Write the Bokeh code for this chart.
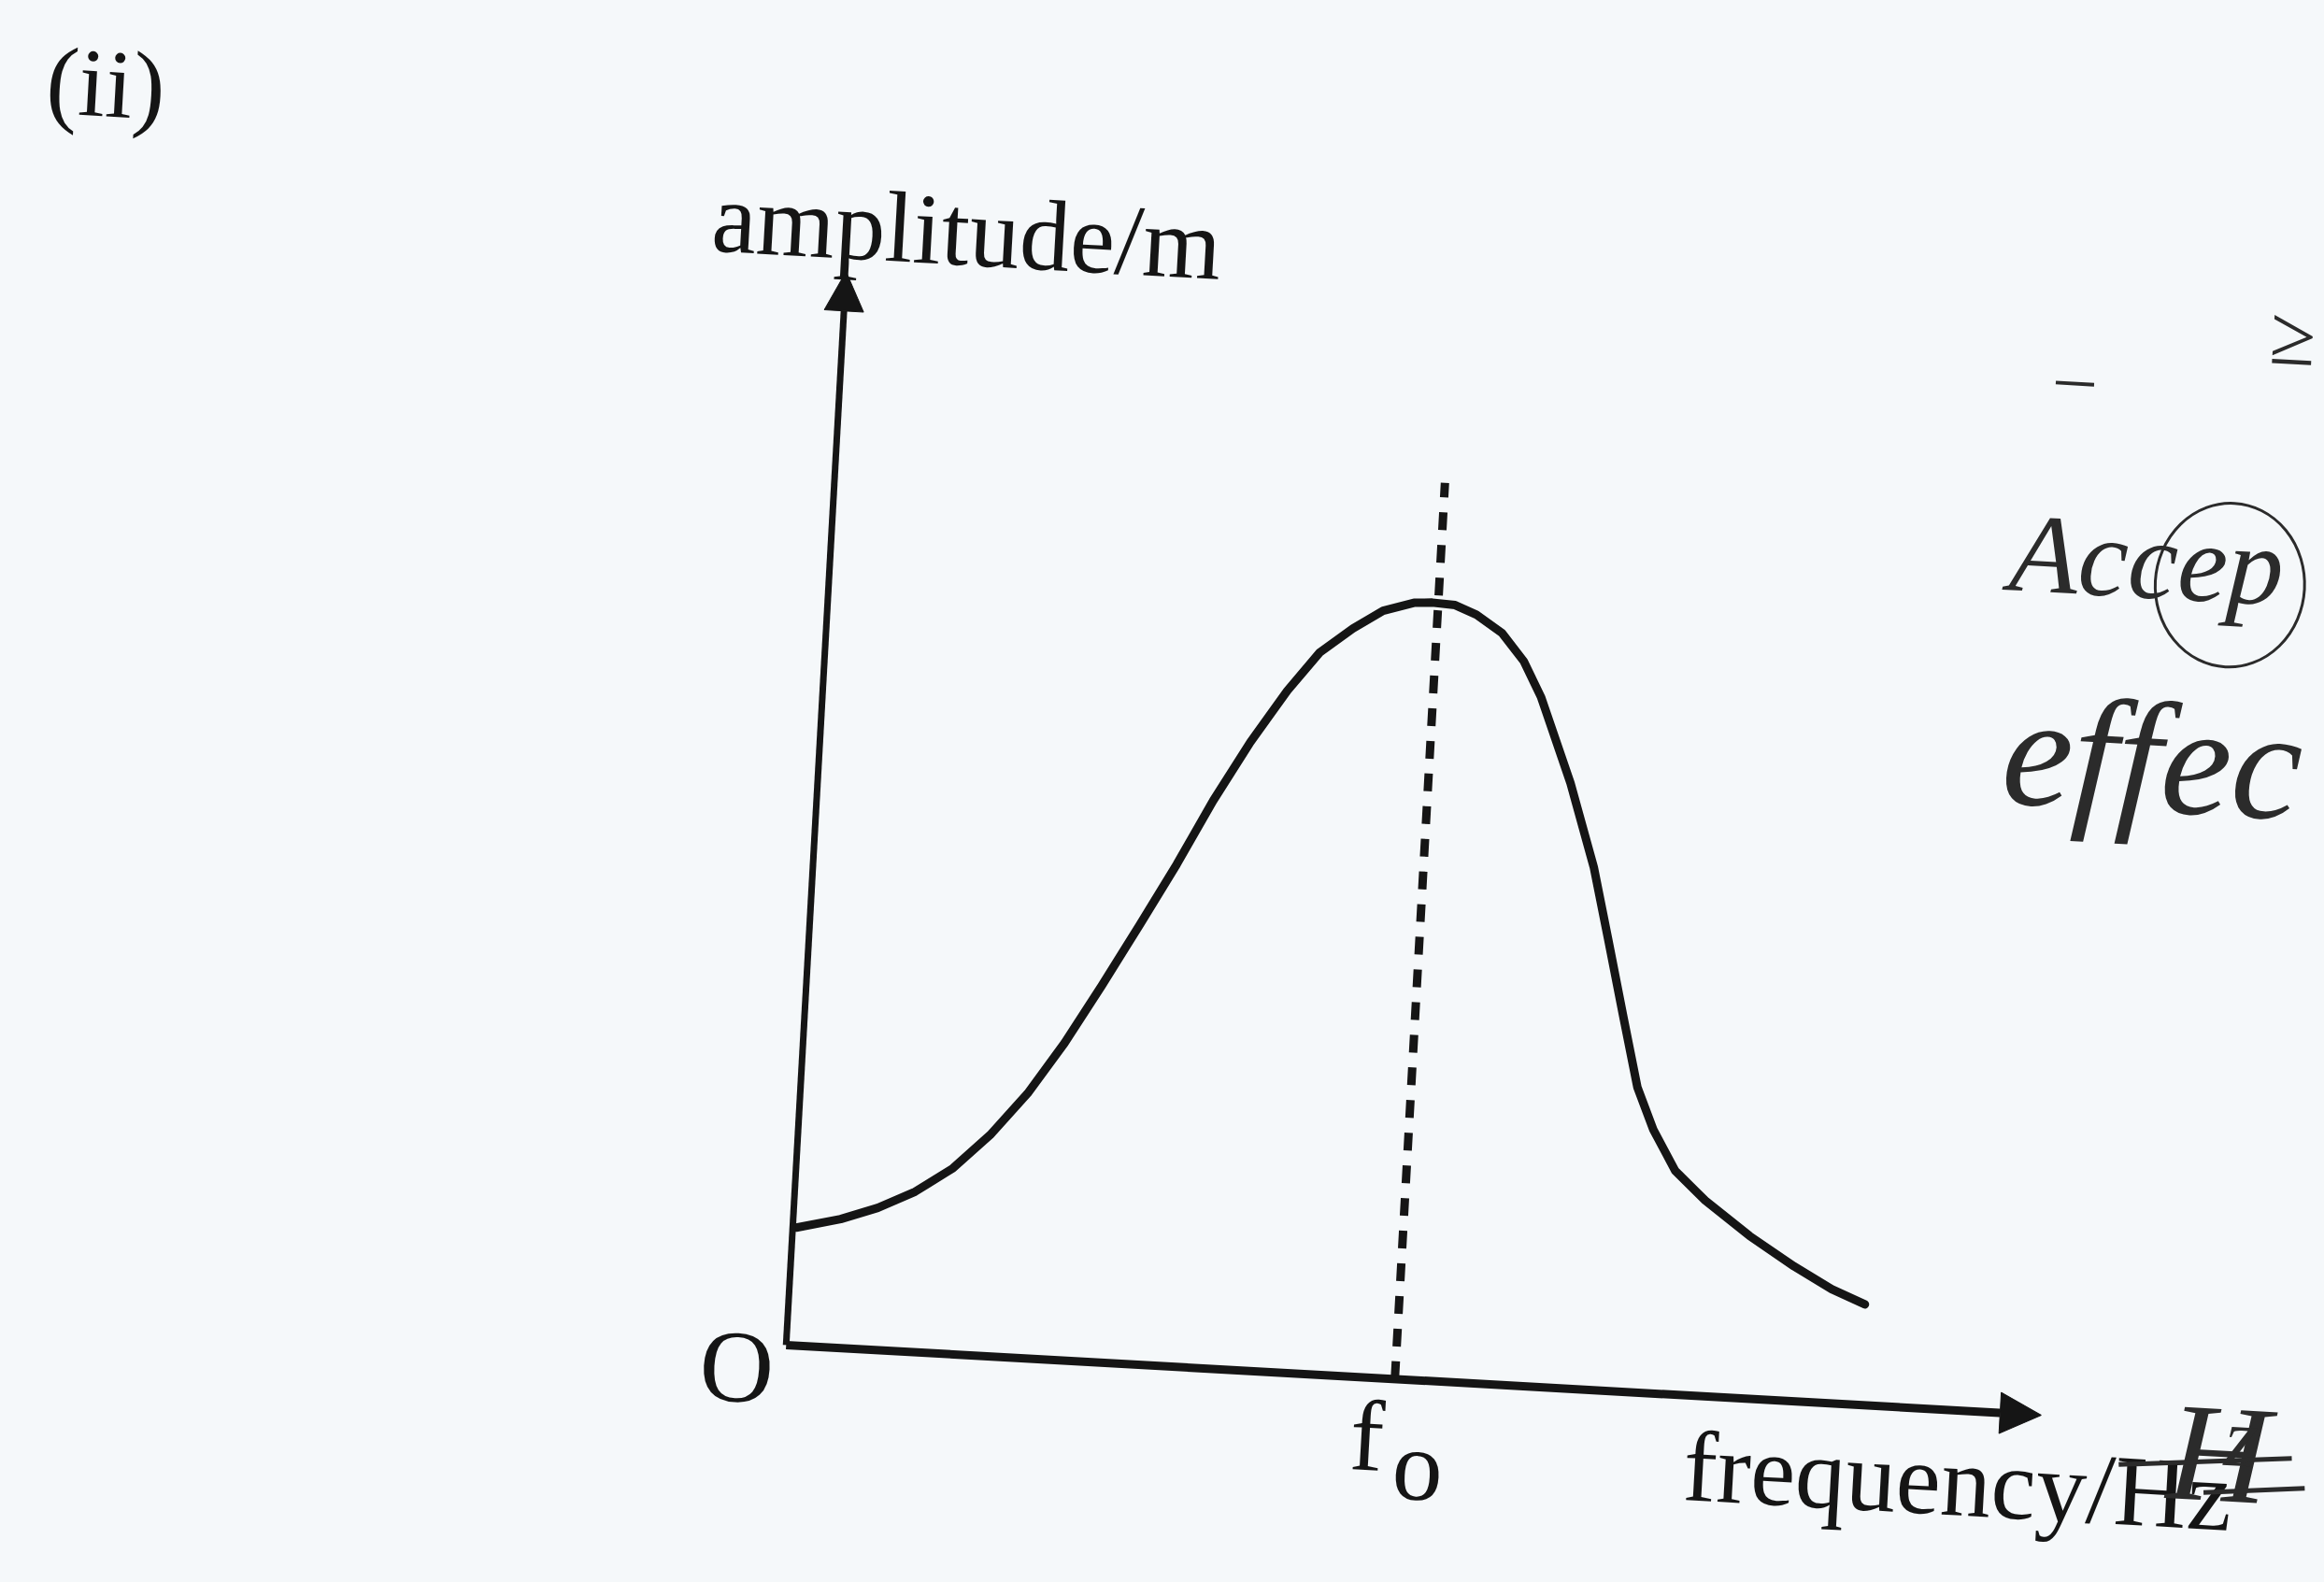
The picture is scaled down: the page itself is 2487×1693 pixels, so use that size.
import math

from bokeh.plotting import figure
from bokeh.models import Range1d, Arrow, NormalHead
from bokeh.layouts import column
from bokeh.core.properties import value
from bokeh.embed import file_html
from bokeh.resources import INLINE

# Resonance curve: amplitude of a driven oscillator against driving frequency
# (arbitrary units, f0 = natural frequency)
frequency = [0.03, 0.39, 0.69, 0.99, 1.29, 1.58, 1.87, 2.15, 2.43, 2.71, 2.99,
             3.26, 3.54, 3.82, 4.07, 4.33, 4.57, 4.82, 4.97, 5.16, 5.34, 5.56,
             5.75, 5.91, 6.19, 6.42, 6.57, 6.73, 6.88, 7.03, 7.23, 7.49, 7.87,
             8.25, 8.57, 8.85]
amplitude = [0.97, 1.06, 1.17, 1.32, 1.53, 1.82, 2.18, 2.61, 3.10, 3.61, 4.13,
             4.67, 5.17, 5.61, 5.94, 6.15, 6.31, 6.39, 6.40, 6.39, 6.32, 6.18,
             5.96, 5.67, 4.98, 4.30, 3.72, 3.09, 2.51, 2.17, 1.84, 1.61, 1.34,
             1.11, 0.94, 0.83]
f0 = 5.02
f0_guide_top = 7.39
freq_axis_end = 10.35
amp_axis_end = 8.85

x_label = "frequency/Hz"
y_label = "amplitude/m"
part_label = "(ii)"

# page geometry
W, H = 2487, 1693
PX_PER_UNIT = 130.0
ORIGIN_PX = (874.7, 1460.6)      # where (0, 0) sits on the canvas
TILT_DEG = 3.2                   # the printed sheet sits slightly askew
PAPER = "#f5f8fa"
INK = "#151515"
PEN = "#2b2b2b"
FONT = "Liberation Serif"

# the tilted plot is measured by its bounding box, so its canvas grows to that size
t = math.radians(TILT_DEG)
CW = W * math.cos(t) + H * math.sin(t)
CH = W * math.sin(t) + H * math.cos(t)

x0 = -ORIGIN_PX[0] / PX_PER_UNIT
x1 = (CW - ORIGIN_PX[0]) / PX_PER_UNIT
y0 = -(CH - ORIGIN_PX[1]) / PX_PER_UNIT
y1 = ORIGIN_PX[1] / PX_PER_UNIT

p = figure(width=W, height=H, x_range=Range1d(x0, x1), y_range=Range1d(y0, y1),
           x_axis_location=None, y_axis_location=None, min_border=0,
           toolbar_location=None, output_backend="svg",
           background_fill_color=PAPER, border_fill_color=PAPER)
p.grid.visible = False
p.outline_line_color = None
p.styles = {"transform": f"rotate({TILT_DEG}deg)", "transform-origin": "50% 50%"}

# axes drawn as arrows from the origin
p.add_layout(Arrow(end=NormalHead(size=44, fill_color=INK, line_color=INK, line_width=1),
                   x_start=0, y_start=0, x_end=freq_axis_end, y_end=0,
                   line_width=9, line_color=INK))
p.add_layout(Arrow(end=NormalHead(size=42, fill_color=INK, line_color=INK, line_width=1),
                   x_start=0, y_start=0, x_end=0, y_end=amp_axis_end,
                   line_width=7, line_color=INK))

# dashed guide at the natural frequency
p.segment(x0=[f0], y0=[0], x1=[f0], y1=[f0_guide_top], line_color=INK,
          line_width=9, line_dash="19 16")

# resonance curve
p.line(frequency, amplitude, line_color=INK, line_width=9,
       line_join="round", line_cap="round")

serif = dict(text_font=value(FONT), text_color=INK, text_baseline="alphabetic",
             text_font_style="normal")

p.text(x=[-1.126], y=[9.24], text=[y_label], text_font_size=value("108px"),
       text_align="left", **serif)
p.text(x=[7.435], y=[-0.58], text=[x_label], text_font_size=value("108px"),
       text_align="left", **serif)
p.text(x=[-0.09], y=[-0.20], text=["O"], text_font_size=value("110px"),
       text_align="right", **serif)
p.text(x=[4.68], y=[-0.48], text=["f"], text_font_size=value("108px"),
       text_align="left", **serif)
p.text(x=[5.04], y=[-0.70], text=["o"], text_font_size=value("108px"),
       text_align="left", **serif)
p.text(x=[-6.66], y=[10.06], text=[part_label], text_font_size=value("104px"),
       text_align="left", **serif)

# marker's pen notes in the margin
pen = dict(text_font=value(FONT), text_font_style="italic", text_color=PEN,
           text_baseline="alphabetic", text_align="left")
p.text(x=[9.70], y=[7.08], text=["Accep"], text_font_size=value("120px"), **pen)
p.text(x=[9.73], y=[5.45], text=["effec"], text_font_size=value("170px"), **pen)
p.text(x=[10.0], y=[8.56], text=["\u2013"], text_font_size=value("80px"), **pen)
p.text(x=[11.73], y=[8.99], text=["\u2265"], text_font_size=value("90px"), **pen)
p.ellipse(x=[11.52], y=[6.91], width=1.23, height=1.35, fill_color=None,
          line_color=PEN, line_width=3)
p.text(x=[11.41], y=[-0.23], text=["H"], text_font_size=value("150px"), **pen)
p.text(x=[11.87], y=[-0.09], text=["z"], text_font_size=value("90px"), **pen)
p.segment(x0=[11.01, 11.72], y0=[-0.37, -0.56], x1=[12.43, 12.55], y1=[-0.24, -0.48],
          line_color=PEN, line_width=5)

page = column(p, styles={"overflow": "hidden", "background-color": PAPER})

open("out.html", "w").write(file_html(page, INLINE))
